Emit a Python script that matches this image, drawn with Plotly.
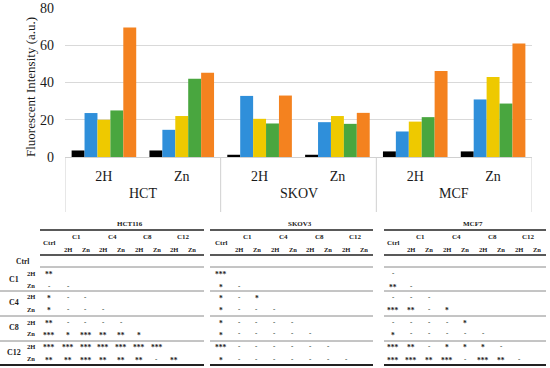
import plotly.graph_objects as go

# ---------------- data ----------------
cell_lines = ["HCT", "HCT", "SKOV", "SKOV", "MCF", "MCF"]
conditions = ["2H", "Zn", "2H", "Zn", "2H", "Zn"]
series_names = ["Ctrl", "C1", "C4", "C8", "C12"]
ctrl_vals = [3.5, 3.5, 1.2, 1.2, 3.0, 3.0]
c1_vals = [23.6, 14.6, 32.8, 18.7, 13.7, 30.9]
c4_vals = [20.0, 22.0, 20.5, 22.0, 19.0, 42.9]
c8_vals = [25.0, 42.0, 18.0, 17.8, 21.4, 28.7]
c12_vals = [69.5, 45.3, 33.0, 23.7, 46.2, 61.0]
series_colors = ["#000000", "#2F8FDA", "#EEC900", "#49A63F", "#F4821F"]
y_ticks = [0, 20, 40, 60, 80]
y_title = "Fluorescent Intensity (a.u.)"

# significance tables (lower triangle; columns: Ctrl, C1-2H, C1-Zn, C4-2H, C4-Zn, C8-2H, C8-Zn, C12-2H)
table_titles = ["HCT116", "SKOV3", "MCF7"]
compounds = ["C1", "C4", "C8", "C12"]
treatments = ["2H", "Zn"]
hct116_sig = [
    ["**"],
    ["-", "-"],
    ["*", "-", "-"],
    ["*", "-", "-", "-"],
    ["**", "-", "-", "-", "-"],
    ["***", "*", "***", "**", "**", "*"],
    ["***", "***", "***", "***", "***", "***", "***"],
    ["**", "**", "***", "**", "**", "**", "-", "**"],
]
skov3_sig = [
    ["***"],
    ["*", "-"],
    ["*", "-", "*"],
    ["*", "-", "-", "-"],
    ["*", "-", "-", "-", "-"],
    ["*", "-", "-", "-", "-", "-"],
    ["***", "-", "-", "-", "-", "-", "-"],
    ["*", "-", "-", "-", "-", "-", "-", "-"],
]
mcf7_sig = [
    ["-"],
    ["**", "-"],
    ["-", "-", "-"],
    ["***", "**", "-", "*"],
    ["-", "-", "-", "-", "*"],
    ["*", "-", "-", "-", "-", "-"],
    ["***", "**", "-", "*", "*", "*", "-"],
    ["***", "***", "**", "***", "-", "***", "**", "-"],
]
sig_tables = [hct116_sig, skov3_sig, mcf7_sig]

# ---------------- layout geometry (pixels) ----------------
W, H = 550, 368
L, R, T, B = 65, 18, 8, 211
PW, PH = W - L - R, H - T - B
SERIF = "Liberation Serif, DejaVu Serif, serif"
TXT = "#1a1a1a"
AXIS_GRAY = "#d0d0d0"


def px(x):
    return (x - L) / PW


def py(y):
    return (H - B - y) / PH


x_keys = [f"{c} {t}" for c, t in zip(cell_lines, conditions)]

fig = go.Figure()
for name, vals, col in zip(series_names,
                           [ctrl_vals, c1_vals, c4_vals, c8_vals, c12_vals],
                           series_colors):
    fig.add_trace(go.Bar(x=x_keys, y=vals, name=name,
                         marker=dict(color=col, line=dict(width=0))))

annotations = []
shapes = []


def text(x, y, s, size=7, bold=True, anchor="center", angle=0):
    annotations.append(dict(x=px(x), y=py(y), xref="paper", yref="paper",
                            text=f"<b>{s}</b>" if bold else s, showarrow=False,
                            xanchor=anchor, yanchor="middle", textangle=angle,
                            font=dict(family=SERIF, size=size, color=TXT)))


def hline(x0, x1, y, width=1.0, color="#555555"):
    shapes.append(dict(type="line", xref="paper", yref="paper",
                       x0=px(x0), x1=px(x1), y0=py(y), y1=py(y),
                       line=dict(color=color, width=width)))


# y-axis title
text(30, 87, y_title, size=13, bold=False, angle=-90)

# outer category labels and dividers (Excel-style multi-level axis)
groups = []
for i, c in enumerate(cell_lines):
    if not groups or groups[-1][0] != c:
        groups.append([c, i, i])
    else:
        groups[-1][2] = i
div_pos = [groups[0][1] - 0.5] + [g[2] + 0.5 for g in groups]
for d in div_pos:
    shapes.append(dict(type="line", xref="x", yref="paper", x0=d, x1=d,
                       y0=0, y1=py(212), line=dict(color=AXIS_GRAY, width=1)))
for g in groups:
    annotations.append(dict(x=(g[1] + g[2]) / 2, y=py(193), xref="x", yref="paper",
                            text=g[0], showarrow=False, xanchor="center",
                            yanchor="middle",
                            font=dict(family=SERIF, size=14, color=TXT)))

# table geometry: (ctrl_x, first_col_x, step, line_left, line_right, title_x, sep_left)
geoms = [
    (49, 68, 17.7, 40, 204, 130, 0),
    (221, 239, 17.85, 210, 373, 300, 210),
    (393, 411, 18.0, 384, 546, 473, 384),
]
row_y = [273, 285.5, 296.5, 309, 322, 333.5, 346, 358.5]

for ti, (title, sig, g) in enumerate(zip(table_titles, sig_tables, geoms)):
    cx, fx, st, l0, l1, tx, sl = g
    col_x = [cx] + [fx + st * k for k in range(8)]
    text(tx, 224, title, size=7)
    hline(l0, l1, 230, width=1.5, color="#222222")
    text(cx, 242.5, "Ctrl", size=7)
    for ci, c in enumerate(compounds):
        xa, xb = fx + st * (2 * ci), fx + st * (2 * ci + 1)
        text((xa + xb) / 2, 236.5, c, size=7)
        text(xa, 249, treatments[0], size=6.5)
        text(xb, 249, treatments[1], size=6.5)
    hline(l0, l1, 255, width=1.3, color="#222222")
    hline(l0, l1, 267, width=1.0, color="#8a8a8a")
    for sy in [291, 316, 341]:
        hline(sl, l1, sy, width=1.0, color="#8a8a8a")
    hline(sl, l1, 365, width=2.0, color="#222222")
    for ri, row in enumerate(sig):
        for ci, s in enumerate(row):
            yy = row_y[ri] + (1.5 if "*" in s else 0)
            text(col_x[ci], yy, s, size=7.5 if "*" in s else 7)

# row labels (left of first table)
text(22, 261, "Ctrl", size=7.5)
for ci, c in enumerate(compounds):
    ya, yb = row_y[2 * ci], row_y[2 * ci + 1]
    text(14, (ya + yb) / 2, c, size=8)
    text(31, ya, treatments[0], size=6.5)
    text(31, yb, treatments[1], size=6.5)

fig.update_layout(
    width=W, height=H,
    margin=dict(l=L, r=R, t=T, b=B, autoexpand=False),
    paper_bgcolor="white", plot_bgcolor="white",
    barmode="group", bargap=0.17, bargroupgap=0,
    showlegend=False,
    font=dict(family=SERIF, color=TXT),
    annotations=annotations, shapes=shapes,
    xaxis=dict(type="category", categoryorder="array", categoryarray=x_keys,
               tickvals=x_keys, ticktext=conditions,
               range=[-0.5, len(x_keys) - 0.5],
               showline=True, linecolor=AXIS_GRAY, linewidth=1, showgrid=False,
               tickfont=dict(family=SERIF, size=14, color=TXT),
               ticks="", ticklabelstandoff=6,
               automargin=False),
    yaxis=dict(range=[0, 80], tickvals=y_ticks, showgrid=True, gridcolor="#d9d9d9",
               gridwidth=1, zeroline=False, showline=False, ticks="",
               ticklabelstandoff=10,
               tickfont=dict(family=SERIF, size=14, color=TXT),
               automargin=False),
)

fig.write_html("out.html", config={"displayModeBar": False},
               post_script="document.body.style.margin='0';document.body.style.overflow='hidden';")
